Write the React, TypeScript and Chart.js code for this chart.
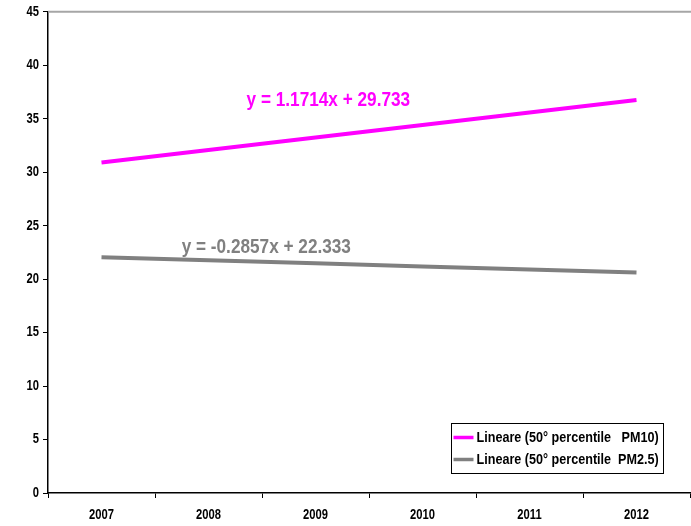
import React, { useEffect, useRef } from 'react';
import { Chart, registerables } from 'chart.js';

Chart.register(...registerables);

const categories = ['2007', '2008', '2009', '2010', '2011', '2012'];
const pm10Trend = [30.9, 32.08, 33.25, 34.42, 35.59, 36.76];
const pm25Trend = [22.05, 21.76, 21.48, 21.19, 20.9, 20.62];
const seriesLabels = ['Lineare (50° percentile   PM10)', 'Lineare (50° percentile  PM2.5)'];
const seriesColors = ['#FF00FF', '#808080'];
const equations = ['y = 1.1714x + 29.733', 'y = -0.2857x + 22.333'];
const equationAnchorX = [2.12, 1.54];
const equationAnchorY = [36.7, 23.0];
const yMin = 0;
const yMax = 45;
const yStep = 5;

const FONT = '"Liberation Sans", Arial, sans-serif';

// draw horizontally condensed text
function drawText(ctx: any, text: string, x: number, y: number, align: 'left' | 'center' | 'right', sx: number) {
  ctx.save();
  ctx.translate(x, y);
  ctx.scale(sx, 1);
  ctx.textAlign = align;
  ctx.fillText(text, 0, 0);
  ctx.restore();
}

const overlayPlugin = {
  id: 'overlay',
  afterDraw(chart: any) {
    const { ctx, chartArea, scales } = chart;
    const xs = scales.x;
    const ys = scales.y;
    ctx.save();
    // top border
    ctx.strokeStyle = '#a6a6a6';
    ctx.lineWidth = 2;
    ctx.beginPath();
    ctx.moveTo(chartArea.left, chartArea.top);
    ctx.lineTo(chartArea.right + 1, chartArea.top);
    ctx.stroke();

    // tick labels (condensed)
    ctx.fillStyle = '#000';
    ctx.font = `bold 14px ${FONT}`;
    ctx.textBaseline = 'middle';
    ys.ticks.forEach((t: any, i: number) => {
      drawText(ctx, String(t.value), chartArea.left - 9, ys.getPixelForTick(i), 'right', 0.8);
    });
    categories.forEach((c, i) => {
      drawText(ctx, c, xs.getPixelForValue(i), chartArea.bottom + 22, 'center', 0.8);
    });

    // equations
    ctx.font = `bold 20px ${FONT}`;
    ctx.textBaseline = 'middle';
    equations.forEach((eq, i) => {
      ctx.fillStyle = seriesColors[i];
      drawText(ctx, eq, xs.getPixelForValue(equationAnchorX[i]), ys.getPixelForValue(equationAnchorY[i]), 'center', 0.86);
    });

    // legend
    const lsx = 0.84;
    ctx.font = `bold 15px ${FONT}`;
    const textW = Math.max(...seriesLabels.map((l) => ctx.measureText(l).width)) * lsx;
    const lineLen = 20;
    const gap = 3;
    const padL = 2;
    const padR = 5;
    const rowH = 22;
    const boxW = Math.round(padL + lineLen + gap + textW + padR);
    const boxH = 50;
    const boxRight = chartArea.right - 27;
    const boxBottom = chartArea.bottom - 20;
    const bx = Math.round(boxRight - boxW) + 0.5;
    const by = Math.round(boxBottom - boxH) + 0.5;
    ctx.fillStyle = '#fff';
    ctx.fillRect(bx, by, boxW, boxH);
    ctx.strokeStyle = '#000';
    ctx.lineWidth = 1;
    ctx.strokeRect(bx, by, boxW, boxH);
    ctx.textBaseline = 'middle';
    seriesLabels.forEach((lab, i) => {
      const cy = by + 14 + i * rowH;
      ctx.strokeStyle = seriesColors[i];
      ctx.lineWidth = 3.5;
      ctx.beginPath();
      ctx.moveTo(bx + padL, cy);
      ctx.lineTo(bx + padL + lineLen, cy);
      ctx.stroke();
      ctx.fillStyle = '#000';
      drawText(ctx, lab, bx + padL + lineLen + gap, cy, 'left', lsx);
    });
    ctx.restore();
  },
};

export default function App() {
  const ref = useRef<HTMLCanvasElement | null>(null);
  useEffect(() => {
    if (!ref.current) return;
    const chart = new Chart(ref.current, {
      type: 'line',
      data: {
        labels: categories,
        datasets: [
          {
            label: seriesLabels[0],
            data: pm10Trend,
            borderColor: seriesColors[0],
            backgroundColor: seriesColors[0],
            borderWidth: 4,
            pointRadius: 0,
            tension: 0,
          },
          {
            label: seriesLabels[1],
            data: pm25Trend,
            borderColor: seriesColors[1],
            backgroundColor: seriesColors[1],
            borderWidth: 4,
            pointRadius: 0,
            tension: 0,
          },
        ],
      },
      options: {
        responsive: false,
        animation: false,
        devicePixelRatio: 1,
        layout: { padding: { left: 0, top: 11, right: 1, bottom: 0 } },
        plugins: { legend: { display: false }, tooltip: { enabled: false } },
        scales: {
          x: {
            type: 'category',
            offset: true,
            grid: { offset: true, drawOnChartArea: false, drawTicks: true, tickLength: 5, color: '#000' },
            border: { color: '#000', width: 1.5 },
            ticks: { font: { family: FONT, size: 13, weight: 'bold' }, color: 'rgba(0,0,0,0)', padding: 9, maxRotation: 0 },
            afterFit: (s: any) => {
              s.height = 33;
            },
          },
          y: {
            min: yMin,
            max: yMax,
            grid: { drawOnChartArea: false, drawTicks: true, tickLength: 5, color: '#000' },
            border: { color: '#000', width: 1.5 },
            ticks: { stepSize: yStep, font: { family: FONT, size: 13, weight: 'bold' }, color: 'rgba(0,0,0,0)', padding: 4 },
            afterFit: (s: any) => {
              s.width = 48;
            },
          },
        },
      },
      plugins: [overlayPlugin],
    } as any);
    return () => chart.destroy();
  }, []);
  return (
    <div style={{ position: 'absolute', left: 0, top: 0, width: 691, height: 526 }}>
      <canvas ref={ref} width={691} height={526} style={{ width: 691, height: 526 }} />
    </div>
  );
}
